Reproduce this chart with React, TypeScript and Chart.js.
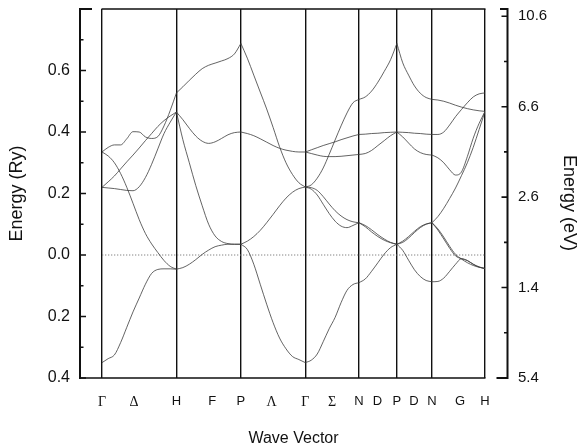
import React, { useEffect, useRef } from 'react';
import { Chart, registerables } from 'chart.js';

Chart.register(...registerables);

// k-path positions of the symmetry points (units of 2π/a, along the path)
const SYM_K = [0, 1, 1.866, 2.732, 3.452, 3.962, 4.434, 5.146];

// bottom tick labels and their positions along the path
const X_LABELS = ['Γ', 'Δ', 'H', 'F', 'P', 'Λ', 'Γ', 'Σ', 'N', 'D', 'P', 'D', 'N', 'G', 'H'];
const X_LABEL_K = [0, 0.43, 1, 1.48, 1.866, 2.28, 2.732, 3.09, 3.452, 3.7, 3.962, 4.19, 4.434, 4.81, 5.146];
const GREEK = ['Γ', 'Δ', 'Λ', 'Σ'];

// left axis (Ry)
const RY_MIN = -0.4;
const RY_MAX = 0.8;
const RY_TICKS = [-0.4, -0.3, -0.2, -0.1, 0, 0.1, 0.2, 0.3, 0.4, 0.5, 0.6, 0.7];
const RY_LABELLED = [-0.4, -0.2, 0, 0.2, 0.4, 0.6];

// right axis (eV)
const EV_MIN = -5.4;
const EV_MAX = 10.92;
const EV_TICKS = [-5.4, -3.4, -1.4, 0.6, 2.6, 4.6, 6.6, 8.6, 10.6];
const EV_LABELLED = [-5.4, -1.4, 2.6, 6.6, 10.6];

const X_TITLE = 'Wave Vector';
const Y_TITLE = 'Energy (Ry)';
const Y2_TITLE = 'Energy (eV)';

// ---- bands, energies (Ry) sampled evenly along each segment ----
// segment 0: Γ -> H
const G_H_A = [-0.350, -0.337, -0.325, -0.285, -0.235, -0.185, -0.140, -0.095, -0.060, -0.047, -0.045, -0.045, -0.046];
const G_H_B = [0.335, 0.322, 0.300, 0.265, 0.220, 0.168, 0.115, 0.070, 0.036, 0.008, -0.018, -0.037, -0.046];
const G_H_C = [0.220, 0.218, 0.216, 0.213, 0.210, 0.209, 0.222, 0.252, 0.295, 0.345, 0.395, 0.432, 0.465];
const G_H_D = [0.220, 0.238, 0.257, 0.280, 0.303, 0.325, 0.348, 0.372, 0.395, 0.418, 0.437, 0.452, 0.465];
const G_H_E = [0.335, 0.350, 0.358, 0.358, 0.378, 0.401, 0.400, 0.384, 0.379, 0.385, 0.420, 0.470, 0.527];
// segment 1: H -> P
const H_P_F = [0.527, 0.547, 0.568, 0.588, 0.606, 0.617, 0.624, 0.631, 0.639, 0.654, 0.688];
const H_P_G = [0.465, 0.440, 0.412, 0.387, 0.370, 0.363, 0.368, 0.379, 0.391, 0.398, 0.400];
const H_P_H = [0.465, 0.375, 0.300, 0.226, 0.160, 0.100, 0.062, 0.044, 0.037, 0.035, 0.035];
const H_P_I = [-0.046, -0.041, -0.030, -0.015, 0.002, 0.016, 0.027, 0.032, 0.035, 0.035, 0.035];
// segment 2: P -> Γ
const P_G_J = [0.688, 0.640, 0.585, 0.530, 0.475, 0.415, 0.352, 0.300, 0.262, 0.235, 0.221];
const P_G_L = [0.400, 0.395, 0.388, 0.378, 0.367, 0.356, 0.347, 0.341, 0.337, 0.335, 0.335];
const P_G_K = [0.035, 0.045, 0.060, 0.080, 0.105, 0.132, 0.160, 0.185, 0.204, 0.216, 0.221];
const P_G_M = [0.035, 0.018, -0.030, -0.095, -0.160, -0.220, -0.270, -0.305, -0.330, -0.340, -0.350];
// segment 3: Γ -> N
const G_N_N = [0.335, 0.342, 0.349, 0.356, 0.362, 0.368, 0.375, 0.381, 0.387, 0.392];
const G_N_O = [0.335, 0.330, 0.325, 0.321, 0.320, 0.320, 0.321, 0.323, 0.325, 0.327];
const G_N_P = [0.221, 0.228, 0.250, 0.283, 0.327, 0.374, 0.420, 0.462, 0.495, 0.506];
const G_N_Q1 = [0.221, 0.219, 0.210, 0.190, 0.166, 0.144, 0.127, 0.115, 0.108, 0.105];
const G_N_Q2 = [0.221, 0.214, 0.195, 0.165, 0.135, 0.110, 0.094, 0.089, 0.096, 0.105];
const G_N_R = [-0.350, -0.342, -0.322, -0.282, -0.240, -0.203, -0.155, -0.115, -0.096, -0.090];
// segment 4: N -> P
const N_P_S = [0.506, 0.514, 0.533, 0.562, 0.597, 0.635, 0.688];
const N_P_T = [0.392, 0.393, 0.395, 0.396, 0.398, 0.399, 0.400];
const N_P_U = [0.327, 0.330, 0.340, 0.356, 0.372, 0.388, 0.400];
const N_P_V1 = [0.105, 0.092, 0.075, 0.060, 0.048, 0.040, 0.035];
const N_P_V2 = [0.105, 0.096, 0.082, 0.066, 0.052, 0.041, 0.035];
const N_P_W = [-0.090, -0.078, -0.053, -0.025, 0.003, 0.024, 0.035];
// segment 5: P -> N
const P_N_X = [0.688, 0.625, 0.585, 0.550, 0.526, 0.512, 0.506];
const P_N_Y = [0.400, 0.399, 0.398, 0.396, 0.395, 0.393, 0.392];
const P_N_Z = [0.400, 0.384, 0.364, 0.345, 0.333, 0.327, 0.325];
const P_N_AA1 = [0.035, 0.045, 0.060, 0.077, 0.092, 0.101, 0.105];
const P_N_AA2 = [0.035, 0.041, 0.055, 0.073, 0.089, 0.100, 0.105];
const P_N_BB = [0.035, 0.015, -0.017, -0.048, -0.070, -0.083, -0.087];
// segment 6: N -> H
const N_H_CC = [0.506, 0.504, 0.500, 0.494, 0.487, 0.481, 0.476, 0.472, 0.469, 0.467];
const N_H_DD = [0.392, 0.392, 0.400, 0.423, 0.450, 0.473, 0.495, 0.514, 0.524, 0.527];
const N_H_EE = [0.325, 0.316, 0.300, 0.277, 0.260, 0.270, 0.320, 0.380, 0.428, 0.467];
const N_H_FF = [0.105, 0.125, 0.152, 0.184, 0.218, 0.258, 0.300, 0.350, 0.408, 0.467];
const N_H_GG1 = [0.105, 0.085, 0.058, 0.028, 0.002, -0.013, -0.025, -0.034, -0.040, -0.044];
const N_H_GG2 = [0.105, 0.081, 0.052, 0.022, -0.003, -0.012, -0.018, -0.030, -0.039, -0.044];
const N_H_HH = [-0.087, -0.086, -0.075, -0.053, -0.030, -0.012, -0.018, -0.030, -0.039, -0.044];

const BANDS: [number, number[]][] = [
  [0, G_H_A], [0, G_H_B], [0, G_H_C], [0, G_H_D], [0, G_H_E],
  [1, H_P_F], [1, H_P_G], [1, H_P_H], [1, H_P_I],
  [2, P_G_J], [2, P_G_L], [2, P_G_K], [2, P_G_M],
  [3, G_N_N], [3, G_N_O], [3, G_N_P], [3, G_N_Q1], [3, G_N_Q2], [3, G_N_R],
  [4, N_P_S], [4, N_P_T], [4, N_P_U], [4, N_P_V1], [4, N_P_V2], [4, N_P_W],
  [5, P_N_X], [5, P_N_Y], [5, P_N_Z], [5, P_N_AA1], [5, P_N_AA2], [5, P_N_BB],
  [6, N_H_CC], [6, N_H_DD], [6, N_H_EE], [6, N_H_FF], [6, N_H_GG1], [6, N_H_GG2], [6, N_H_HH],
];

const SANS = '"Liberation Sans", Arial, Helvetica, sans-serif';
const SERIF = '"Liberation Serif", "DejaVu Serif", "Times New Roman", serif';

const near = (a: number, list: number[]) => list.some((b) => Math.abs(a - b) < 1e-6);

const offsetAxes = {
  id: 'offsetAxes',
  afterDraw(chart: any) {
    const { ctx, chartArea: a, scales } = chart;
    ctx.save();
    ctx.strokeStyle = '#111';
    ctx.lineCap = 'butt';
    // frame top and bottom
    ctx.lineWidth = 1.6;
    ctx.beginPath();
    ctx.moveTo(a.left - 0.5, a.top);
    ctx.lineTo(a.right + 0.5, a.top);
    ctx.moveTo(a.left - 22, a.bottom);
    ctx.lineTo(a.right + 0.5, a.bottom);
    ctx.stroke();

    // left detached axis
    const lx = a.left - 22;
    ctx.lineWidth = 2;
    ctx.beginPath();
    ctx.moveTo(lx, a.top - 1);
    ctx.lineTo(lx, a.bottom + 1);
    ctx.moveTo(lx - 1, a.top);
    ctx.lineTo(lx + 12, a.top);
    ctx.stroke();
    ctx.lineWidth = 1.6;
    ctx.beginPath();
    RY_TICKS.forEach((v) => {
      const y = scales.y.getPixelForValue(v);
      const len = near(v, RY_LABELLED) ? 6 : 3.5;
      ctx.moveTo(lx, y);
      ctx.lineTo(lx + len, y);
    });
    ctx.stroke();

    // right detached axis
    const rx = a.right + 22.5;
    ctx.lineWidth = 2;
    ctx.beginPath();
    ctx.moveTo(rx, a.top - 1);
    ctx.lineTo(rx, a.bottom + 1);
    ctx.moveTo(rx + 1, a.top);
    ctx.lineTo(rx - 7.5, a.top);
    ctx.moveTo(rx + 1, a.bottom);
    ctx.lineTo(rx - 11, a.bottom);
    ctx.stroke();
    ctx.lineWidth = 1.6;
    ctx.beginPath();
    EV_TICKS.forEach((v) => {
      const y = scales.y2.getPixelForValue(v);
      const len = near(v, EV_LABELLED) ? 6 : 3.5;
      ctx.moveTo(rx, y);
      ctx.lineTo(rx - len, y);
    });
    ctx.stroke();

    // right axis title (reads top to bottom, sits a little below centre)
    ctx.fillStyle = '#111';
    ctx.font = `18px ${SANS}`;
    ctx.textAlign = 'center';
    ctx.textBaseline = 'middle';
    ctx.translate(scales.y2.right - 8, (a.top + a.bottom) / 2 + 9.5);
    ctx.rotate(Math.PI / 2);
    ctx.fillText(Y2_TITLE, 0, 0);
    ctx.restore();
  },
};

export default function App() {
  const ref = useRef<HTMLCanvasElement | null>(null);

  useEffect(() => {
    if (!ref.current) return;
    const datasets: any[] = BANDS.map(([seg, e]) => ({
      data: e.map((v, i) => ({
        x: SYM_K[seg] + ((SYM_K[seg + 1] - SYM_K[seg]) * i) / (e.length - 1),
        y: v,
      })),
      showLine: true,
      borderColor: '#3c3c3c',
      borderWidth: 0.8,
      pointRadius: 0,
      cubicInterpolationMode: 'monotone',
      fill: false,
    }));
    datasets.push({
      data: [
        { x: SYM_K[0], y: 0 },
        { x: SYM_K[SYM_K.length - 1], y: 0 },
      ],
      showLine: true,
      borderColor: '#777',
      borderWidth: 0.9,
      borderDash: [1.3, 1.7],
      pointRadius: 0,
      fill: false,
    });

    const chart = new Chart(ref.current, {
      type: 'scatter',
      data: { datasets },
      plugins: [offsetAxes],
      options: {
        animation: false,
        responsive: false,
        devicePixelRatio: 1,
        events: [],
        layout: { padding: { top: 9, left: 0, right: 0, bottom: 0 } },
        plugins: { legend: { display: false }, tooltip: { enabled: false } },
        scales: {
          x: {
            type: 'linear',
            min: SYM_K[0],
            max: SYM_K[SYM_K.length - 1],
            afterBuildTicks: (s: any) => {
              s.ticks = X_LABEL_K.map((v) => ({ value: v }));
            },
            afterFit: (s: any) => {
              s.height = 70;
              s.paddingLeft = 0;
              s.paddingRight = 0;
            },
            grid: {
              drawTicks: true,
              tickLength: 16,
              tickColor: 'rgba(0,0,0,0)',
              color: (c: any) => (near(X_LABEL_K[c.index], SYM_K) ? '#111' : 'rgba(0,0,0,0)'),
              lineWidth: (c: any) => (near(X_LABEL_K[c.index], SYM_K) ? 1.4 : 0),
              tickWidth: 0,
            },
            border: { display: false },
            ticks: {
              autoSkip: false,
              maxRotation: 0,
              minRotation: 0,
              padding: 0,
              color: '#111',
              callback: (_v: any, i: number) => X_LABELS[i],
              font: (c: any) => ({
                family: GREEK.includes(X_LABELS[c.index]) ? SERIF : SANS,
                size: GREEK.includes(X_LABELS[c.index]) ? 14 : 13,
              }),
            },
            title: {
              display: true,
              text: X_TITLE,
              color: '#111',
              font: { family: SANS, size: 16 },
              padding: { top: 0, bottom: 0 },
            },
          },
          y: {
            type: 'linear',
            position: 'left',
            min: RY_MIN,
            max: RY_MAX,
            afterBuildTicks: (s: any) => {
              s.ticks = RY_TICKS.map((v) => ({ value: v }));
            },
            afterFit: (s: any) => {
              s.width = 102;
              s.paddingTop = 0;
              s.paddingBottom = 0;
            },
            grid: { display: false, drawTicks: true, tickLength: 31 },
            border: { display: false },
            ticks: {
              autoSkip: false,
              padding: 1,
              color: '#111',
              font: { family: SANS, size: 16 },
              callback: (v: any) => (near(Number(v), RY_LABELLED) ? Math.abs(Number(v)).toFixed(1) : ''),
            },
            title: {
              display: true,
              text: Y_TITLE,
              color: '#111',
              font: { family: SANS, size: 18, lineHeight: 1.1 },
              padding: { top: 7, bottom: 0 },
            },
          },
          y2: {
            type: 'linear',
            position: 'right',
            min: EV_MIN,
            max: EV_MAX,
            afterBuildTicks: (s: any) => {
              s.ticks = EV_TICKS.map((v) => ({ value: v }));
            },
            afterFit: (s: any) => {
              s.width = 92;
              s.paddingTop = 0;
              s.paddingBottom = 0;
            },
            grid: { display: false, drawTicks: true, tickLength: 32 },
            border: { display: false },
            ticks: {
              autoSkip: false,
              padding: 1,
              color: '#111',
              font: { family: SANS, size: 15 },
              callback: (v: any) => (near(Number(v), EV_LABELLED) ? Math.abs(Number(v)).toFixed(1) : ''),
            },
            title: { display: false },
          },
        },
      } as any,
    });
    return () => chart.destroy();
  }, []);

  return (
    <div style={{ position: 'absolute', left: 0, top: 0, width: 577, height: 448, background: '#fff' }}>
      <canvas ref={ref} width={577} height={448} style={{ display: 'block', width: 577, height: 448 }} />
    </div>
  );
}
